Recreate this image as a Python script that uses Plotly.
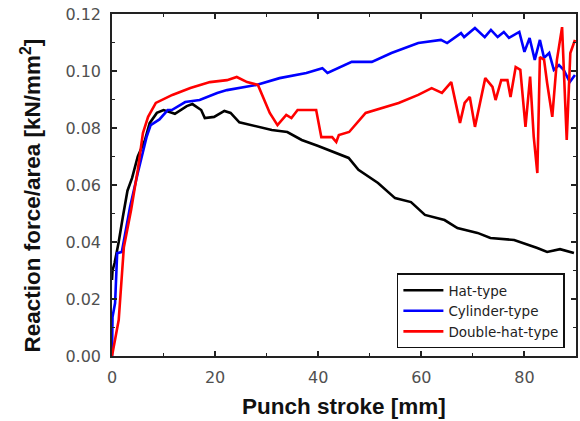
import plotly.graph_objects as go

# Hat-type
hat_x = [0, 0.1, 0.5, 1.3, 2.1, 3.0, 3.9, 5.0, 6.4, 7.3, 8.7, 10.0, 12.2, 14.5, 15.6, 17.3, 18.0, 19.8,
         21.8, 23.0, 24.7, 28.0, 31.0, 34.0, 36.8, 40.0, 43.4, 45.9, 47.8, 51.6, 54.9, 58.0, 60.7, 64.5,
         67.0, 70.9, 73.4, 78.0, 82.5, 84.4, 86.9, 89.6]
hat_y = [0.0267, 0.0300, 0.0326, 0.0400, 0.0488, 0.0580, 0.0625, 0.0700, 0.0758, 0.0817, 0.0853, 0.0863,
         0.0850, 0.0877, 0.0884, 0.0863, 0.0835, 0.0839, 0.0860, 0.0853, 0.0820, 0.0807, 0.0793, 0.0786,
         0.0758, 0.0737, 0.0712, 0.0695, 0.0653, 0.0607, 0.0554, 0.0540, 0.0495, 0.0477, 0.0449, 0.0432,
         0.0414, 0.0407, 0.0379, 0.0365, 0.0375, 0.0361]

# Cylinder-type
cyl_x = [0, 0.1, 0.6, 1.0, 1.9, 3.5, 5.0, 6.7, 7.5, 9.2, 10.8, 11.6, 14.2, 17.0, 20.4, 22.3, 28.0, 32.5,
         37.7, 40.8, 41.8, 44.0, 46.5, 50.4, 54.2, 59.4, 63.8, 65.0, 67.7, 68.3, 70.4, 72.3, 73.5, 74.8,
         76.0, 77.0, 79.0, 80.0, 81.0, 82.0, 83.0, 83.8, 84.8, 85.7, 86.7, 87.6, 88.8, 89.8]
cyl_y = [0.0, 0.0137, 0.0186, 0.0361, 0.0365, 0.0523, 0.0642, 0.0768, 0.0810, 0.0830, 0.0863, 0.0863,
         0.0891, 0.0898, 0.0923, 0.0933, 0.0951, 0.0975, 0.0993, 0.1010, 0.0993, 0.1010, 0.1032, 0.1032,
         0.1063, 0.1098, 0.1109, 0.1098, 0.1133, 0.1119, 0.1151, 0.1119, 0.1144, 0.1119, 0.1137, 0.1116,
         0.1137, 0.1067, 0.1116, 0.1039, 0.1109, 0.1046, 0.1063, 0.1004, 0.1021, 0.1004, 0.0961, 0.0986]

# Double-hat-type
dbl_x = [0, 1.3, 2.3, 3.7, 5.0, 6.0, 7.0, 8.5, 11.7, 14.2, 15.2, 19.0, 22.3, 24.2, 26.2, 28.3, 29.3, 30.6,
         32.1, 33.8, 34.8, 36.0, 39.6, 40.6, 42.7, 43.5, 44.0, 46.0, 49.2, 52.3, 55.6, 59.4, 62.0, 64.0,
         65.8, 67.5, 68.4, 69.4, 70.4, 72.4, 73.8, 74.4, 75.5, 76.7, 77.3, 78.3, 79.2, 80.2, 81.1, 81.8,
         82.5, 83.0, 83.8, 84.4, 85.4, 86.3, 87.3, 88.2, 88.9, 89.8]
dbl_y = [0.0, 0.0126, 0.0382, 0.0512, 0.0653, 0.0782, 0.0839, 0.0888, 0.0916, 0.0933, 0.0940, 0.0961,
         0.0968, 0.0979, 0.0961, 0.0951, 0.0909, 0.0853, 0.0810, 0.0846, 0.0835, 0.0863, 0.0863, 0.0768,
         0.0768, 0.0751, 0.0775, 0.0786, 0.0853, 0.0870, 0.0888, 0.0916, 0.0940, 0.0923, 0.0961, 0.0818,
         0.0888, 0.0909, 0.0804, 0.0975, 0.0944, 0.0898, 0.0968, 0.0968, 0.0909, 0.1014, 0.1004, 0.0804,
         0.0980, 0.0770, 0.0642, 0.1049, 0.1040, 0.0958, 0.0839, 0.1039, 0.1154, 0.0758, 0.1063, 0.1109]

series_names = ["Hat-type", "Cylinder-type", "Double-hat-type"]
series_colors = ["#000000", "#0000FF", "#FF0000"]

x_ticks = [0, 20, 40, 60, 80]
y_ticks = [0.00, 0.02, 0.04, 0.06, 0.08, 0.10, 0.12]
y_tick_labels = ["0.00", "0.02", "0.04", "0.06", "0.08", "0.10", "0.12"]

fig = go.Figure()
for name, color, xs, ys in zip(series_names, series_colors, [hat_x, cyl_x, dbl_x], [hat_y, cyl_y, dbl_y]):
    fig.add_trace(go.Scatter(x=xs, y=ys, mode="lines", name=name,
                             line=dict(color=color, width=2.6)))

tickfont = dict(family="DejaVu Sans", size=16, color="#505050")
axis_common = dict(showline=True, linecolor="#222222", linewidth=1.5, mirror="ticks",
                   ticks="inside", ticklen=5, tickwidth=1.5, tickcolor="#222222",
                   showgrid=False, zeroline=False, tickfont=tickfont, ticklabeloverflow="allow")

fig.update_xaxes(range=[0, 90], tickvals=x_ticks, ticklabelstandoff=6,
                 minor=dict(ticks="inside", ticklen=3, tickwidth=1.2, tickcolor="#222222", dtick=10, tick0=0),
                 **axis_common)
fig.update_yaxes(range=[0, 0.12], tickvals=y_ticks, ticktext=y_tick_labels, ticklabelstandoff=6,
                 minor=dict(ticks="inside", ticklen=3, tickwidth=1.2, tickcolor="#222222", dtick=0.01, tick0=0),
                 **axis_common)

fig.add_annotation(text="Punch stroke [mm]", xref="paper", yref="paper", x=0.5, y=-0.149,
                   xanchor="center", yanchor="middle", showarrow=False,
                   font=dict(family="Liberation Sans", size=22.5, color="#111111", weight="bold"))
fig.add_annotation(text="Reaction force/area [kN/mm<sup>2</sup>]", xref="paper", yref="paper",
                   x=-0.174, y=0.47, xanchor="center", yanchor="middle", textangle=-90, showarrow=False,
                   font=dict(family="Liberation Sans", size=22.5, color="#111111", weight="bold"))

fig.update_layout(
    width=580, height=421,
    margin=dict(l=112, r=2, t=14, b=65),
    paper_bgcolor="white", plot_bgcolor="white",
    showlegend=True,
    legend=dict(x=0.614, y=0.022, xanchor="left", yanchor="bottom",
                bordercolor="#111111", borderwidth=1.5, bgcolor="white",
                font=dict(family="DejaVu Sans", size=13.5, color="#222222"),
                tracegroupgap=0, itemwidth=40),
)

fig.write_html("out.html", config={"displayModeBar": False},
               post_script="document.body.style.margin='0';document.body.style.overflow='hidden';")
